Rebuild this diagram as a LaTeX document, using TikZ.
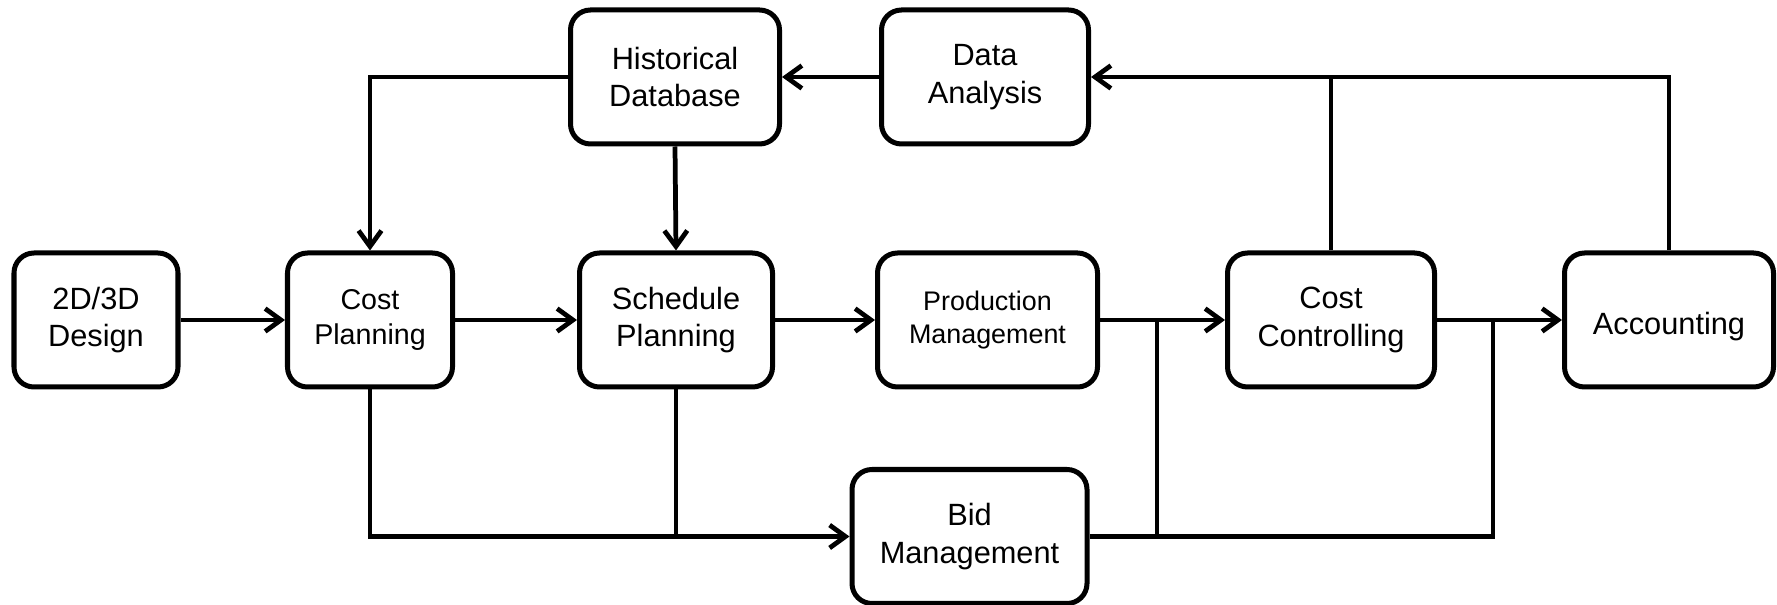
\documentclass[tikz,border=0pt]{standalone}
\usepackage{fontspec}
\setmainfont{Liberation Sans}
\usetikzlibrary{arrows.meta}
\tikzset{
    block/.style={draw,line width=2.85pt,rounded corners=0.4cm,align=center,minimum height=2.68cm,inner sep=2pt,
        font=\fontsize{17.5}{21.5}\selectfont,execute at begin node={\rule{0pt}{20.5pt}}},
    smalltext/.style={font=\fontsize{16.3}{19.8}\selectfont},
    tinytext/.style={font=\fontsize{15.3}{19}\selectfont},
    link/.style={line width=2.7pt,-{Straight Barb[length=9pt,width=13pt]}},
    plain/.style={line width=2.7pt}
}
\begin{document}
\begin{tikzpicture}
    \useasboundingbox (0,0) rectangle (35.54,12.1);
    % main row
    \node[block,minimum width=3.28cm] (design) at (1.92,5.7) {2D/3D\\Design};
    \node[block,smalltext,minimum width=3.30cm] (costplan) at (7.40,5.7) {Cost\\Planning};
    \node[block,minimum width=3.86cm] (sched) at (13.52,5.7) {Schedule\\Planning};
    \node[block,tinytext,minimum width=4.40cm] (prod) at (19.75,5.7) {Production\\Management};
    \node[block,minimum width=4.14cm] (costctrl) at (26.62,5.7) {Cost\\Controlling};
    \node[block,minimum width=4.18cm] (acct) at (33.38,5.7) {Accounting};
    % top and bottom
    \node[block,minimum width=4.18cm] (hist) at (13.50,10.56) {Historical\\Database};
    \node[block,minimum width=4.14cm] (data) at (19.70,10.56) {Data\\Analysis};
    \node[block,minimum width=4.70cm] (bid) at (19.39,1.37) {Bid\\Management};
    \coordinate (j1) at (23.14,5.7);
    \coordinate (j2) at (29.86,5.7);

    \draw[link] (design) -- (costplan);
    \draw[link] (costplan) -- (sched);
    \draw[link] (sched) -- (prod);
    \draw[link] (prod) -- (costctrl);
    \draw[link] (costctrl) -- (acct);
    \draw[link] (data) -- (hist);
    \draw[link] (hist.west) -| (costplan.north);
    \draw[link] (hist.south) -- (sched.north);
    \draw[link] (acct.north) |- (data.east);
    \draw[plain] (costctrl.north) -- (costctrl.north |- data.east);
    \draw[link] (costplan.south) |- (bid.west);
    \draw[plain] (sched.south) -- (sched.south |- bid.west);
    \draw[plain] (bid.east) -| (j2);
    \draw[plain] (bid.east -| j1) -- (j1);
\end{tikzpicture}
\end{document}
